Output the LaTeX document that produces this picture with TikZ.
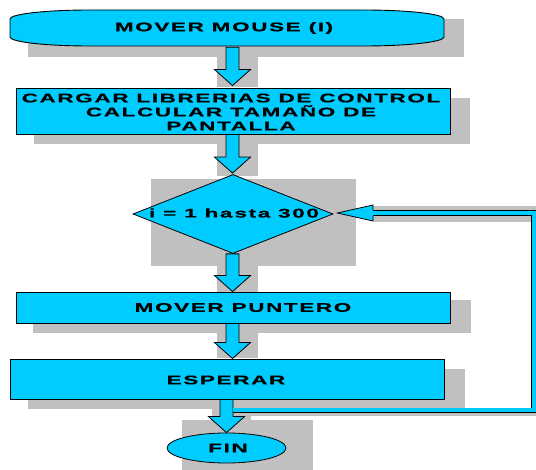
\documentclass[tikz,border=0pt]{standalone}
\usepackage{fontspec}
\setmainfont{Liberation Sans}
\newfontfamily\flow{Liberation Sans Bold}[FakeStretch=1.8,LetterSpace=13,FakeBold=0.6]
\usetikzlibrary{shapes.geometric,calc}
\definecolor{fcyan}{RGB}{0,204,255}
\definecolor{fshadow}{RGB}{192,192,192}
\newcommand\blockarrow[2]{%
  \draw[barrow] let \p1=(#1), \p2=(#2) in
    (\x1-6.5,\y1) -- (\x1+6.5,\y1) -- (\x1+6.5,\y2+16) -- (\x1+18,\y2+16)
    -- (\x1,\y2) -- (\x1-18,\y2+16) -- (\x1-6.5,\y2+16) -- cycle;}
\begin{document}
\begin{tikzpicture}[x=1pt,y=1pt,
  shadowbox/.style={fill=fshadow,draw=none},
  boxnode/.style={rectangle,draw=black,line width=0.9pt,fill=fcyan,minimum width=434pt,inner sep=0pt},
  txt/.style={font=\flow\fontsize{12.5pt}{14pt}\selectfont,align=center,inner sep=0pt},
  barrow/.style={draw=black,line width=0.8pt,fill=fcyan,line join=miter},
  pipe/.style={draw=black,line width=0.8pt,double=fcyan,double distance=4pt},
]
\useasboundingbox (0,0) rectangle (536,-470);
% shadows
\fill[shadowbox] (28,-19) rectangle (464,-57);
\fill[shadowbox] (217,-57) rectangle (258,-87);
\fill[shadowbox] (34,-98) rectangle (470,-144);
\fill[shadowbox] (217,-144) rectangle (258,-176);
\fill[shadowbox] (151,-179) rectangle (356,-266);
\fill[shadowbox] (217,-266) rectangle (258,-292);
\fill[shadowbox] (33,-300) rectangle (471,-333);
\fill[shadowbox] (217,-333) rectangle (258,-358);
\fill[shadowbox] (28,-369) rectangle (465,-409);
\fill[shadowbox] (212,-409) rectangle (251,-435);
\fill[shadowbox] (182,-420) rectangle (313,-470);
\fill[shadowbox] (373,-206) rectangle (536,-222);
\fill[shadowbox] (233,-413) rectangle (536,-416);
% start terminator
\path[fill=fcyan,draw=black,line width=0.9pt] (10,-19) -- (10,-37)
  arc[start angle=180,end angle=270,x radius=80,y radius=9] -- (364,-46)
  arc[start angle=270,end angle=360,x radius=80,y radius=9] -- (444,-19)
  arc[start angle=0,end angle=90,x radius=80,y radius=9] -- (90,-10)
  arc[start angle=90,end angle=180,x radius=80,y radius=9] -- cycle;
\node[minimum width=434pt,minimum height=36pt,inner sep=0pt] (start) at (227,-28) {};
\node[txt] (starttxt) at (224,-28) {MOVER MOUSE (I)};
% boxes
\node[boxnode,minimum height=46pt] (load) at (233,-111) {};
\node[txt] (loadtxt) at (231,-112) {CARGAR LIBRERIAS DE CONTROL\\CALCULAR TAMAÑO DE\\PANTALLA};
\node[diamond,draw=black,line width=0.8pt,fill=fcyan,minimum width=200pt,minimum height=79pt,inner sep=0pt] (loop) at (233,-214) {};
\node[txt] (looptxt) at (234,-213) {i = 1 ha\kern2pt sta 300};
\node[boxnode,minimum height=31pt] (move) at (233,-307.5) {};
\node[txt] (movetxt) at (243,-307.5) {MOVER PUNTERO};
\node[boxnode,minimum height=40pt] (wait) at (227,-379) {};
\node[txt] (waittxt) at (226,-380) {ESPERAR};
\node[ellipse,draw=black,line width=0.8pt,fill=fcyan,minimum width=119pt,minimum height=30pt,inner sep=0pt] (fin) at (226.5,-448) {};
\node[txt] (fintxt) at (228,-448) {FIN};
% arrows
\coordinate (axis) at (232.5,0);
\coordinate (axisb) at (226.5,0);
\blockarrow{$(start.south -| axis)+(0,-1)$}{$(load.north -| axis)+(0,2)$}
\blockarrow{load.south -| axis}{$(loop.north -| axis)+(0,1)$}
\blockarrow{loop.south -| axis}{move.north -| axis}
\blockarrow{move.south -| axis}{wait.north -| axis}
\blockarrow{wait.south -| axisb}{$(fin.north -| axisb)+(0,0)$}
% loop back
\coordinate (corner1) at (533.5,-410);
\coordinate (corner2) at (533.5,-213);
\coordinate (headback) at (373,-213);
\draw[pipe] ($(wait.south -| axisb)+(6.9,-11)$) -- (corner1 |- {$(wait.south)+(0,-11)$}) -- (corner2) -- (headback);
\fill[fcyan] ($(headback)+(0,8)$) -- ($(loop.east)+(4,1)$) -- ($(headback)+(0,-8)$) -- cycle;
\draw[black,line width=0.8pt,line join=miter] ($(headback)+(0,2.8)$) -- ($(headback)+(0,8)$) -- ($(loop.east)+(4,1)$) -- ($(headback)+(0,-8)$) -- ($(headback)+(0,-2.8)$);
\end{tikzpicture}
\end{document}
